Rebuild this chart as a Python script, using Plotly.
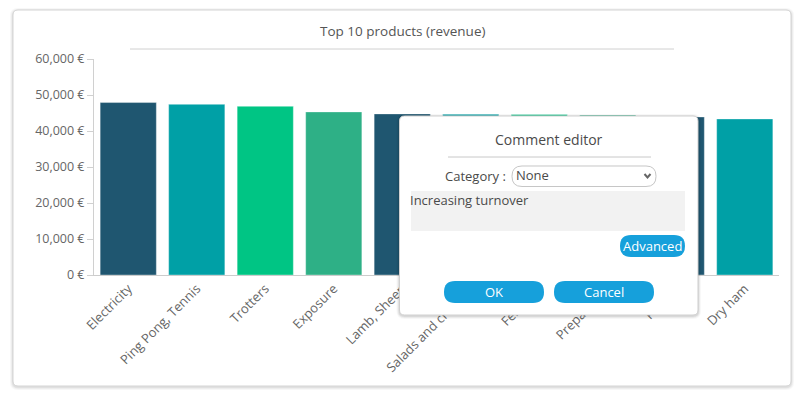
import plotly.graph_objects as go

# ---------------- data ----------------
categories = ["Electricity", "Ping Pong, Tennis", "Trotters", "Exposure", "Lamb, Sheep",
              "Salads and crudités", "Fertilizer", "Preparation", "Poultry", "Dry ham"]
revenue = [47900, 47400, 46850, 45300, 44750, 44650, 44600, 44450, 43900, 43350]
bar_colors = ["#1F5670", "#00A0A6", "#00C584", "#2EB086", "#1F5670",
              "#00A0A6", "#00C584", "#2EB086", "#1F5670", "#00A0A6"]
y_ticks = [0, 10000, 20000, 30000, 40000, 50000, 60000]
y_tick_labels = ["0 €", "10,000 €", "20,000 €", "30,000 €", "40,000 €", "50,000 €", "60,000 €"]
title_text = "Top 10 products (revenue)"
dialog_title = "Comment editor"
category_label = "Category :"
category_value = "None"
comment_text = "Increasing turnover"
btn_advanced = "Advanced"
btn_ok = "OK"
btn_cancel = "Cancel"

# ---------------- layout geometry (pixels) ----------------
W, H = 802, 395
L, R, T, B = 94, 23, 59, 120
PW, PH = W - L - R, H - T - B
FONT = "Open Sans"


def px(x):
    return (x - L) / PW


def py(y):
    return (H - B - y) / PH


def rrect_path(x0, y0, x1, y1, r):
    pts = [
        ("M", [(x0 + r, y0)]), ("L", [(x1 - r, y0)]), ("Q", [(x1, y0), (x1, y0 + r)]),
        ("L", [(x1, y1 - r)]), ("Q", [(x1, y1), (x1 - r, y1)]),
        ("L", [(x0 + r, y1)]), ("Q", [(x0, y1), (x0, y1 - r)]),
        ("L", [(x0, y0 + r)]), ("Q", [(x0, y0), (x0 + r, y0)]),
    ]
    s = ""
    for cmd, ps in pts:
        s += cmd + " " + " ".join(f"{px(a):.5f},{py(b):.5f}" for a, b in ps) + " "
    return s + "Z"


shapes = []


def add_rrect(x0, y0, x1, y1, r, fill, line=None, lw=1, layer="above"):
    shapes.append(dict(type="path", xref="paper", yref="paper", layer=layer,
                       path=rrect_path(x0, y0, x1, y1, r), fillcolor=fill,
                       line=dict(color=line if line else "rgba(0,0,0,0)", width=lw if line else 0)))


def add_line(x0, y0, x1, y1, color, w=1, layer="above"):
    shapes.append(dict(type="line", xref="paper", yref="paper", layer=layer,
                       x0=px(x0), y0=py(y0), x1=px(x1), y1=py(y1),
                       line=dict(color=color, width=w)))


# card with shadow
for i, a in enumerate([0.03, 0.04, 0.05]):
    d = 3 - i
    add_rrect(13 - d, 10 - d + 1, 791 + d, 386 + d + 1, 5 + d, f"rgba(0,0,0,{a})", layer="below")
add_rrect(13, 10, 791, 386, 5, "#FFFFFF", "#D4D4D4", 1, layer="below")
# title underline
add_line(130, 49, 674, 49, "#D0D0D0", 1, layer="below")

# dialog with shadow
for i, a in enumerate([0.03, 0.05, 0.07]):
    d = 3 - i
    add_rrect(399.5 - d, 116 - d + 1, 698 + d, 315 + d + 1, 5 + d, f"rgba(0,0,0,{a})")
add_rrect(399.5, 116, 698, 315, 5, "#FFFFFF", "#D0D0D0", 1)
add_line(448, 157, 651, 157, "#C8C8C8", 1)
# select box
add_rrect(512, 166, 656, 186.5, 10, "#FFFFFF", "#C6C6C6", 1)
shapes.append(dict(type="path", xref="paper", yref="paper", layer="above",
                   path=f"M {px(644.5)},{py(174)} L {px(647.5)},{py(177.5)} L {px(650.5)},{py(174)}",
                   line=dict(color="#666666", width=2)))
# textarea
add_rrect(411, 191, 685, 231, 0.01, "#F2F2F2")
# buttons
BTN = "#16A0DB"
add_rrect(620, 235, 685, 257, 11, BTN)
add_rrect(444, 281, 544, 303, 11, BTN)
add_rrect(554, 281, 654, 303, 11, BTN)

annotations = []


def add_text(x, y, text, size, color, xanchor="center"):
    annotations.append(dict(x=px(x), y=py(y), xref="paper", yref="paper", text=text,
                            showarrow=False, xanchor=xanchor, yanchor="middle",
                            font=dict(family=FONT, size=size, color=color)))


add_text(402, 31, title_text, 13.5, "#555555")
add_text(549, 139, dialog_title, 14, "#4A4A4A")
add_text(508, 176, category_label, 13, "#4A4A4A", "right")
add_text(514, 175, category_value, 13, "#4A4A4A", "left")
add_text(408, 200, comment_text, 13, "#4A4A4A", "left")
add_text(652.5, 246, btn_advanced, 13, "#FFFFFF")
add_text(494, 292, btn_ok, 13, "#FFFFFF")
add_text(604, 292, btn_cancel, 13, "#FFFFFF")

fig = go.Figure()
fig.add_trace(go.Bar(x=categories, y=revenue,
                     marker=dict(color=bar_colors, line=dict(color="rgba(255,255,255,0.35)", width=1))))

fig.update_layout(
    width=W, height=H,
    margin=dict(l=L, r=R, t=T, b=B, pad=0, autoexpand=False),
    paper_bgcolor="#FFFFFF", plot_bgcolor="rgba(0,0,0,0)",
    bargap=0.18, showlegend=False,
    font=dict(family=FONT, size=12, color="#666666"),
    shapes=shapes, annotations=annotations,
    xaxis=dict(showline=True, linecolor="#CCCCCC", linewidth=1, tickangle=-45, automargin=False,
               ticks="", showgrid=False, tickfont=dict(family=FONT, size=13, color="#666666")),
    yaxis=dict(range=[0, 60000], tickvals=y_ticks, ticktext=y_tick_labels, automargin=False,
               showline=True, linecolor="#D0D0D0", linewidth=1, ticks="outside", ticklen=6,
               tickcolor="#D0D0D0", showgrid=False, zeroline=False,
               tickfont=dict(family=FONT, size=12.5, color="#666666")),
)

fig.write_html("out.html", config={"displayModeBar": False},
               post_script="document.body.style.margin='0';document.body.style.overflow='hidden';")
